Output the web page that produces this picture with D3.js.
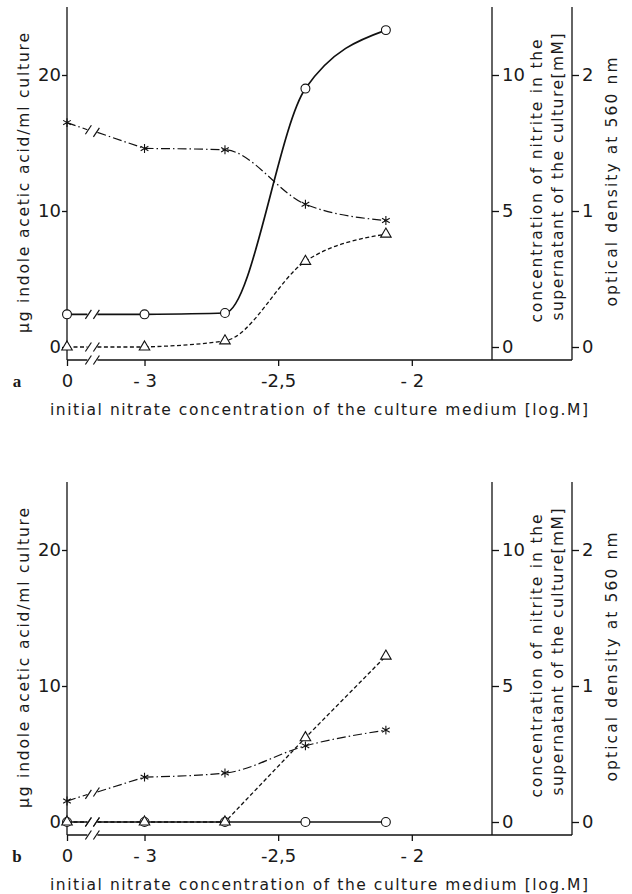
<!DOCTYPE html>
<html lang="en">
<head>
<meta charset="utf-8">
<title>Indole acetic acid, nitrite and growth vs initial nitrate</title>
<script src="https://d3js.org/d3.v7.min.js"></script>
<style>
  body { margin: 0; background: #fff; }
  svg text { font-family: "DejaVu Sans", "Helvetica", "Arial", sans-serif; fill: #1a1a1a; }
  .axis path, .axis line { stroke: #111; stroke-width: 1.3; }
  .axis text { font-size: 18px; }
  .title { font-size: 15.5px; }
  .letter { font-family: "Liberation Serif", "Times New Roman", serif; font-weight: bold; font-size: 17px; }
</style>
</head>
<body>
<script>
// ---- data ----
// null = control without nitrate, drawn left of the axis break at "0"
const nitrateLog = [null, -3, -2.699, -2.398, -2.097];
const xTickValues = [null, -3, -2.5, -2];
const xTickLabels = ["0", "- 3", "-2,5", "- 2"];
const iaaTicks = [0, 10, 20];
const nitriteTicks = [0, 5, 10];
const odTicks = [0, 1, 2];

// panel a
const iaaA = [2.4, 2.4, 2.5, 19.0, 23.3];
const nitriteA = [8.25, 7.3, 7.25, 5.25, 4.65];
const odA = [0.0, 0.0, 0.045, 0.63, 0.83];
// panel b
const iaaB = [0, 0, 0, 0, 0];
const nitriteB = [0.77, 1.65, 1.8, 2.8, 3.38];
const odB = [0, 0, 0, 0.62, 1.22];

const panelLetters = ["a", "b"];

// ---- layout ----
const width = 632, height = 894;
const plotLeft = 67, plotRight = 492, odAxisX = 572;
const plotTop = 7, zeroY = 347, baseY = 360;
const panelShift = 475;
const controlPos = -3.29;          // where the control sits on the log axis
const breakAt = [-3.21, -3.18];    // the two slashes of the axis break

const x = d3.scaleLinear().domain([controlPos, -1.7]).range([plotLeft, plotRight]);
const yIaa = d3.scaleLinear().domain([0, 25]).range([zeroY, plotTop]);
const yNit = d3.scaleLinear().domain([0, 12.5]).range([zeroY, plotTop]);
const yOd = d3.scaleLinear().domain([0, 2.5]).range([zeroY, plotTop]);
const px = v => x(v === null ? controlPos : v);

const svg = d3.select("body").append("svg")
  .attr("width", width).attr("height", height);

function slash(g, cx, cy) {
  g.append("line")
    .attr("x1", cx - 3).attr("y1", cy + 4.5)
    .attr("x2", cx + 3).attr("y2", cy - 4.5)
    .attr("stroke", "#111").attr("stroke-width", 1.2);
}

function drawPanel(g, data, letter) {
  // axes
  const bx1 = x(breakAt[0]), bx2 = x(breakAt[1]);
  g.append("line").attr("x1", plotLeft).attr("x2", bx1 - 1).attr("y1", baseY).attr("y2", baseY)
    .attr("stroke", "#111").attr("stroke-width", 1.5);
  g.append("line").attr("x1", bx2 + 1).attr("x2", odAxisX).attr("y1", baseY).attr("y2", baseY)
    .attr("stroke", "#111").attr("stroke-width", 1.5);
  slash(g, bx1, baseY); slash(g, bx2, baseY);

  const xAxis = d3.axisBottom(x)
    .tickValues(xTickValues.map(v => v === null ? controlPos : v))
    .tickFormat((d, i) => xTickLabels[i])
    .tickSize(6).tickPadding(8);
  g.append("g").attr("class", "axis").attr("transform", `translate(0,${baseY})`)
    .call(xAxis).call(s => s.select(".domain").remove());

  [plotLeft, plotRight, odAxisX].forEach(ax => {
    g.append("line").attr("x1", ax).attr("x2", ax).attr("y1", plotTop).attr("y2", baseY)
      .attr("stroke", "#111").attr("stroke-width", 1.3);
  });

  g.append("g").attr("class", "axis").attr("transform", `translate(${plotLeft},0)`)
    .call(d3.axisLeft(yIaa).tickValues(iaaTicks).tickSize(5).tickPadding(1).tickFormat(d3.format("d")))
    .call(s => s.select(".domain").remove());
  g.append("g").attr("class", "axis").attr("transform", `translate(${plotRight},0)`)
    .call(d3.axisRight(yNit).tickValues(nitriteTicks).tickSize(7).tickPadding(3).tickFormat(d3.format("d")))
    .call(s => s.select(".domain").remove());
  g.append("g").attr("class", "axis").attr("transform", `translate(${odAxisX},0)`)
    .call(d3.axisRight(yOd).tickValues(odTicks).tickSize(7).tickPadding(3).tickFormat(d3.format("d")))
    .call(s => s.select(".domain").remove());

  // titles
  const vtitle = (cx, cy, len, txt) => g.append("text").attr("class", "title")
    .attr("transform", `translate(${cx},${cy}) rotate(-90)`)
    .attr("text-anchor", "middle").attr("dy", "0.35em")
    .attr("textLength", len).attr("lengthAdjust", "spacing")
    .text(txt);
  vtitle(24, 183, 300, "μg indole acetic acid/ml culture");
  vtitle(537, 181, 283, "concentration of nitrite in the");
  vtitle(558, 177, 287, "supernatant of the culture[mM]");
  vtitle(612, 182, 249, "optical density at 560 nm");

  g.append("text").attr("class", "title")
    .attr("x", 319).attr("y", 410).attr("dy", "0.35em")
    .attr("text-anchor", "middle")
    .attr("textLength", 538).attr("lengthAdjust", "spacing")
    .text("initial nitrate concentration of the culture medium [log.M]");

  g.append("text").attr("class", "letter")
    .attr("x", 17).attr("y", 381).attr("dy", "0.35em").attr("text-anchor", "middle")
    .text(letter);

  // series
  const series = [
    { values: data.iaa, y: yIaa, dash: null, w: 1.7, marker: "circle", curve: d3.curveMonotoneX },
    { values: data.nitrite, y: yNit, dash: "9,3,1.5,3", w: 1.2, marker: "asterisk", curve: d3.curveMonotoneX },
    { values: data.od, y: yOd, dash: "4,2.5", w: 1.3, marker: "triangle", curve: data.odCurve }
  ];

  series.forEach(s => {
    const pts = s.values.map((v, i) => [px(nitrateLog[i]), s.y(v)]);
    const p0 = pts[0], p1 = pts[1];
    const yAt = bx => p0[1] + (bx - p0[0]) / (p1[0] - p0[0]) * (p1[1] - p0[1]);
    const y1 = yAt(bx1), y2 = yAt(bx2);
    g.append("path")
      .attr("d", `M${p0[0]},${p0[1]}L${bx1 - 1},${y1}M${bx2 + 1},${y2}L${p1[0]},${p1[1]}`)
      .attr("fill", "none").attr("stroke", "#111").attr("stroke-width", s.w)
      .attr("stroke-dasharray", s.dash);
    slash(g, bx1, y1); slash(g, bx2, y2);
    g.append("path").attr("d", d3.line().curve(s.curve)(pts.slice(1)))
      .attr("fill", "none").attr("stroke", "#111").attr("stroke-width", s.w)
      .attr("stroke-dasharray", s.dash);
    s.pts = pts;
  });

  series.forEach(s => {
    const m = g.append("g").selectAll("path").data(s.pts).join("path")
      .attr("transform", d => `translate(${d[0]},${d[1]})`)
      .attr("stroke", "#111").attr("stroke-width", 1.1);
    if (s.marker === "circle") {
      m.attr("d", d3.symbol(d3.symbolCircle, 62)()).attr("fill", "#fff");
    } else if (s.marker === "triangle") {
      m.attr("d", d3.symbol(d3.symbolTriangle, 48)()).attr("fill", "#fff");
    } else {
      m.attr("d", d3.symbol(d3.symbolAsterisk, 55)()).attr("fill", "none");
    }
  });
}

drawPanel(svg.append("g"),
  { iaa: iaaA, nitrite: nitriteA, od: odA, odCurve: d3.curveMonotoneX }, panelLetters[0]);
drawPanel(svg.append("g").attr("transform", `translate(0,${panelShift})`),
  { iaa: iaaB, nitrite: nitriteB, od: odB, odCurve: d3.curveLinear }, panelLetters[1]);
</script>
</body>
</html>
